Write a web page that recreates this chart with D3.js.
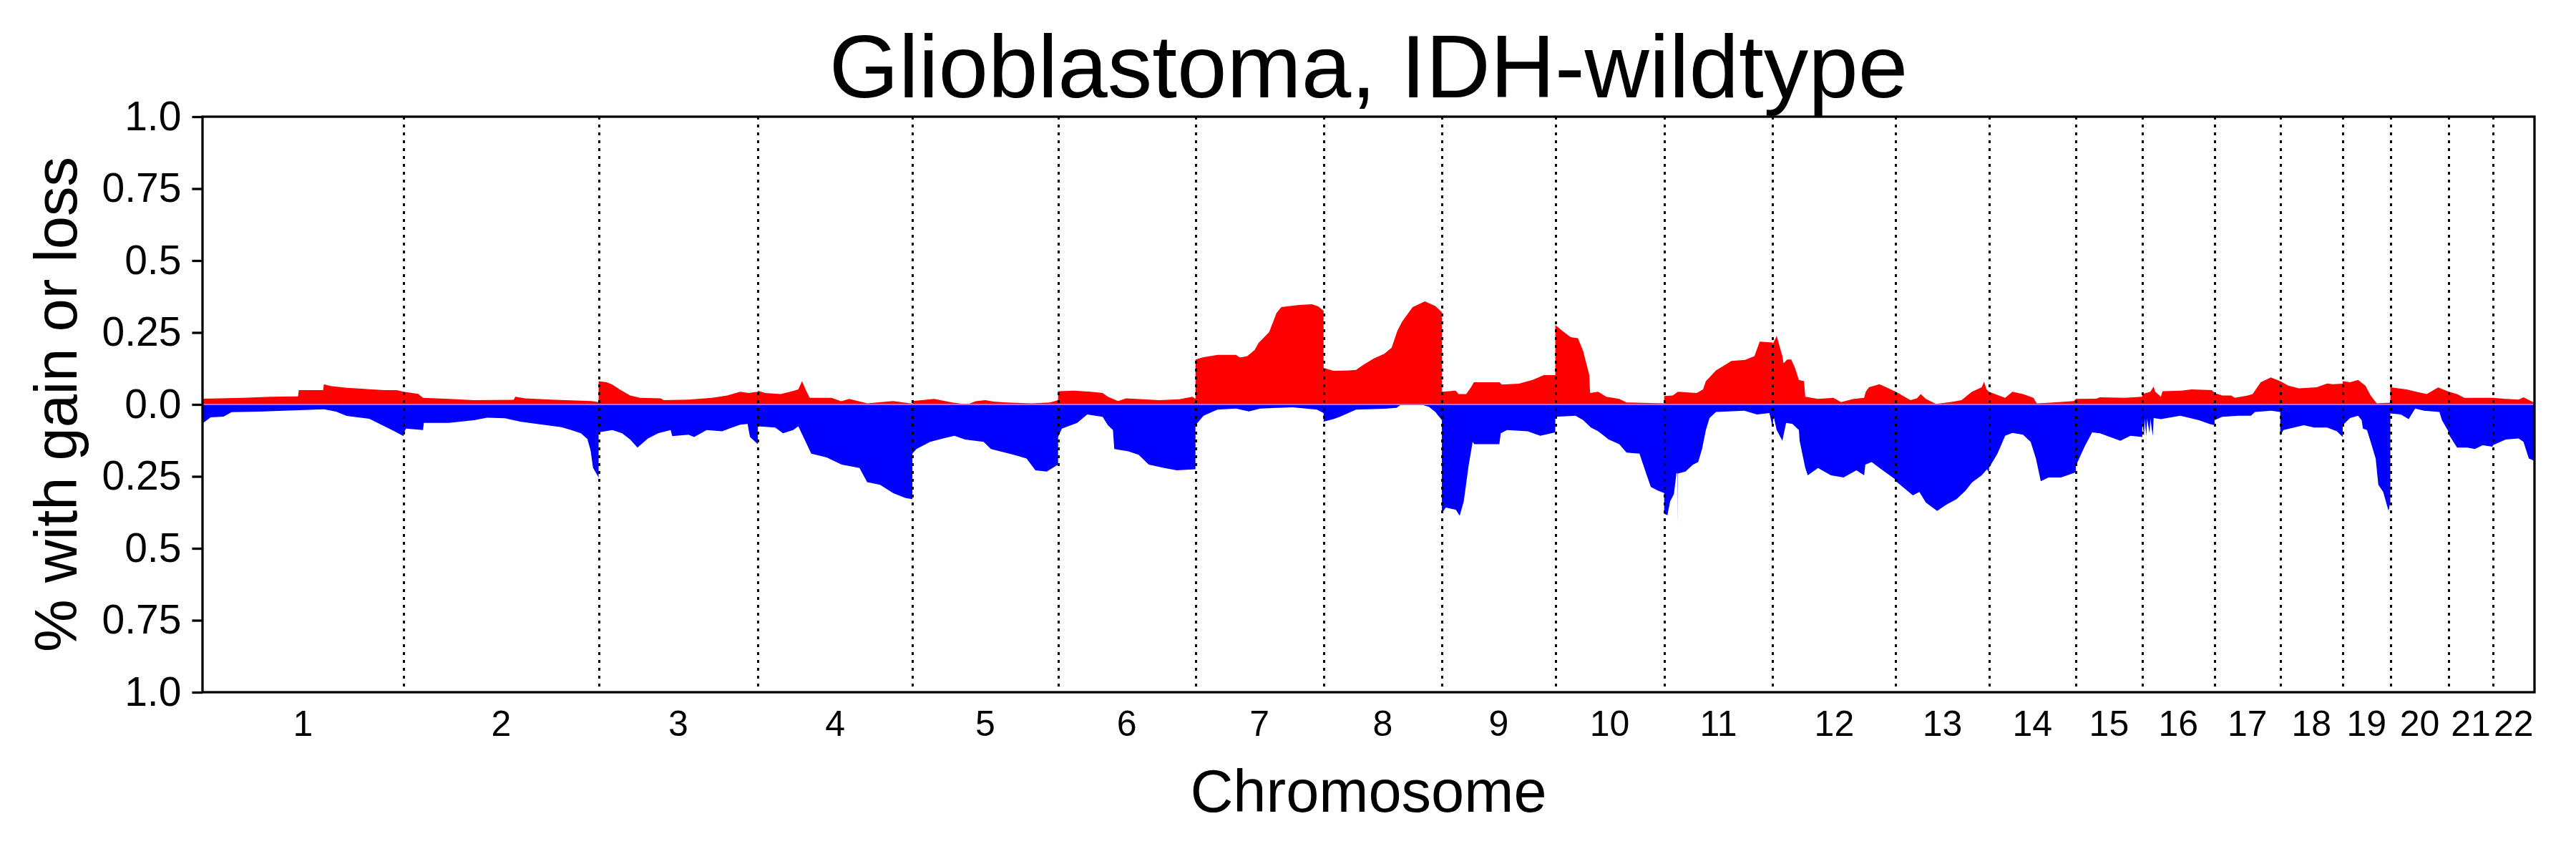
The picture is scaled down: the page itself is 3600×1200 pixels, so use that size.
<!DOCTYPE html>
<html>
<head>
<meta charset="utf-8">
<script src="https://d3js.org/d3.v7.min.js"></script>
<style>
  body { margin: 0; background: #fff; }
  text { font-family: "Liberation Sans", Arial, sans-serif; fill: #000; }
</style>
</head>
<body>
<svg id="chart" width="3600" height="1200"></svg>
<script>
// chromosome names and plotted widths (Mb)
const chromNames = ['1','2','3','4','5','6','7','8','9','10','11','12','13','14','15','16','17','18','19','20','21','22'];
const chromLengths = [248.4, 240.9, 196.7, 190.9, 180.0, 169.7, 158.3, 146.1, 140.1, 134.5, 134.0,
                      152.2, 115.0, 107.3, 82.1, 89.3, 81.1, 77.2, 58.8, 72.4, 54.1, 51.6];

// fraction with gain: [position in chromosome (Mb), fraction]
const gainByChrom = [
  [[0,0.02],[50,0.023],[85,0.027],[118,0.028],[119,0.05],[149,0.05],[150,0.07],[158,0.064],[178,0.058],[205,0.053],[225,0.05],[240,0.05],[248.4,0.044]],
  [[0,0.044],[18,0.037],[24,0.023],[56,0.019],[87,0.015],[136,0.016],[138,0.027],[150,0.021],[182,0.017],[232,0.012],[240.9,0.008]],
  [[0,0.081],[10,0.077],[17,0.069],[26,0.052],[39,0.031],[51,0.023],[77,0.021],[80,0.015],[111,0.017],[140,0.023],[159,0.031],[175,0.044],[185,0.04],[196.7,0.044]],
  [[0,0.048],[9,0.04],[28,0.036],[40,0.044],[50,0.052],[54.6,0.081],[59,0.052],[64,0.023],[91,0.023],[103,0.011],[113,0.019],[135,0.004],[167,0.012],[180,0.007],[190.9,0.003]],
  [[0,0.012],[27,0.019],[49,0.007],[68,0.0],[78,0.011],[90,0.015],[100,0.01],[116,0.007],[147,0.004],[170,0.007],[180,0.015]],
  [[0,0.046],[20,0.048],[40,0.044],[55,0.04],[61.5,0.027],[74,0.012],[84,0.021],[125,0.015],[150,0.018],[165.7,0.027],[169.7,0.02]],
  [[0,0.156],[10,0.164],[27.5,0.172],[50,0.172],[55,0.163],[64,0.168],[73,0.189],[78,0.214],[91,0.251],[100,0.317],[106,0.338],[128,0.346],[144,0.348],[152,0.34],[158.3,0.325]],
  [[0,0.127],[12,0.117],[31,0.118],[40,0.12],[50,0.139],[62,0.16],[75,0.176],[84,0.197],[91,0.255],[97,0.288],[110,0.338],[125,0.358],[138,0.342],[146.1,0.32]],
  [[0,0.044],[17,0.048],[20.6,0.036],[30,0.036],[36,0.06],[39.5,0.077],[71,0.077],[74,0.069],[95,0.072],[112,0.085],[126,0.102],[140.1,0.102]],
  [[0,0.276],[9,0.255],[19,0.234],[28,0.23],[34.5,0.185],[42,0.102],[43,0.04],[53,0.044],[63,0.027],[79,0.019],[88,0.007],[134.5,0.004]],
  [[0,0.029],[10.5,0.031],[17,0.044],[40,0.04],[48,0.052],[51.5,0.081],[64,0.118],[83,0.151],[100,0.155],[111.5,0.168],[118,0.218],[134,0.215]],
  [[0,0.209],[5,0.238],[8.7,0.201],[12,0.168],[13.5,0.143],[18,0.156],[23,0.156],[27.6,0.127],[32.4,0.085],[38.7,0.081],[40.3,0.027],[56,0.019],[75,0.023],[84.5,0.008],[100,0.019],[113,0.023],[115,0.044],[119,0.06],[132,0.07],[152.2,0.044]],
  [[0,0.044],[18,0.015],[26,0.021],[30.7,0.036],[37,0.019],[49.6,0.002],[68.5,0.009],[81,0.015],[94,0.044],[106,0.06],[109,0.079],[112,0.052],[115,0.044]],
  [[0,0.044],[20,0.023],[29,0.044],[42,0.036],[55,0.023],[59,0.004],[80,0.007],[105,0.012],[107.3,0.019]],
  [[0,0.019],[25,0.02],[30,0.025],[60,0.023],[82.1,0.027]],
  [[0,0.036],[10,0.044],[14,0.062],[16,0.044],[23,0.027],[25,0.046],[48,0.048],[61,0.052],[86,0.05],[89.3,0.04]],
  [[0,0.04],[9.5,0.031],[20.5,0.031],[25,0.023],[41,0.031],[47,0.036],[57,0.077],[69.5,0.094],[81.1,0.081]],
  [[0,0.081],[10,0.065],[23,0.056],[45,0.06],[58,0.073],[65,0.07],[77.2,0.072]],
  [[0,0.081],[9,0.077],[19,0.085],[28,0.065],[34.5,0.031],[42,0.004],[58.8,0.006]],
  [[0,0.06],[20,0.052],[32,0.044],[45,0.036],[59,0.059],[72.4,0.044]],
  [[0,0.044],[10,0.036],[19,0.023],[54.1,0.023]],
  [[0,0.023],[16,0.019],[32,0.017],[38,0.025],[50.8,0.007],[51.6,0.005]]
];

// fraction with loss: [position in chromosome (Mb), fraction]
const lossByChrom = [
  [[0,0.065],[3,0.06],[10,0.045],[26,0.042],[36,0.027],[70,0.025],[119,0.02],[150,0.017],[165,0.025],[178,0.04],[206,0.05],[222,0.072],[235,0.09],[248.4,0.11]],
  [[0,0.1],[3,0.084],[24,0.089],[25,0.064],[56,0.064],[87,0.055],[103,0.046],[125,0.048],[144,0.06],[165,0.068],[195,0.079],[207,0.089],[219,0.1],[227,0.12],[231,0.16],[234,0.22],[240.9,0.254]],
  [[0,0.097],[17,0.089],[29,0.1],[39,0.122],[48,0.15],[61,0.118],[73.5,0.1],[89,0.089],[91,0.11],[111,0.105],[118,0.113],[133.5,0.089],[152.5,0.093],[175,0.07],[184,0.068],[187,0.113],[196.7,0.138]],
  [[0,0.076],[21.5,0.08],[31,0.1],[43.6,0.089],[50,0.076],[66,0.171],[85,0.184],[103.5,0.209],[125.6,0.221],[135,0.27],[151,0.279],[167,0.308],[182.5,0.325],[190.9,0.329]],
  [[0,0.171],[5,0.155],[22,0.13],[38,0.118],[52,0.109],[65,0.122],[88,0.13],[97,0.155],[125,0.175],[141,0.188],[152,0.229],[166,0.233],[180,0.209]],
  [[0,0.113],[4.7,0.084],[23.6,0.064],[36,0.035],[55,0.043],[61.5,0.072],[67.8,0.089],[69.4,0.155],[86.7,0.163],[99.4,0.175],[112,0.209],[131,0.221],[146.7,0.229],[169.7,0.225]],
  [[0,0.072],[10,0.039],[27,0.018],[50,0.014],[66,0.024],[80,0.014],[120,0.01],[150,0.018],[158.3,0.03]],
  [[0,0.06],[12,0.051],[20,0.043],[40,0.018],[75,0.015],[90,0.012],[96,0.0],[120,0.0],[130,0.008],[138,0.026],[146.1,0.055]],
  [[0,0.378],[4.8,0.358],[17.4,0.366],[22,0.387],[27,0.337],[33,0.213],[38,0.13],[40,0.138],[71,0.138],[72.7,0.1],[80.5,0.089],[106,0.093],[121.5,0.109],[140.1,0.097]],
  [[0,0.043],[25,0.039],[34.5,0.055],[44,0.08],[53,0.093],[66,0.122],[79,0.138],[88,0.167],[104,0.171],[113,0.246],[118,0.287],[127,0.3],[134.5,0.308]],
  [[0,0.38],[4,0.385],[7.3,0.337],[12,0.312],[15.2,0.238],[16.6,0.24],[16.8,0.42],[17,0.24],[26.3,0.233],[35.7,0.209],[42,0.2],[46.8,0.155],[51.5,0.089],[56,0.047],[64,0.026],[99,0.022],[114.6,0.035],[130,0.03],[134,0.08]],
  [[0,0.08],[1,0.039],[5,0.089],[12,0.126],[16.6,0.064],[24.5,0.068],[32.4,0.089],[33.3,0.126],[40.3,0.221],[43.4,0.246],[56,0.221],[72,0.246],[87.6,0.254],[103.4,0.229],[113,0.246],[114.5,0.209],[122.3,0.2],[132,0.221],[152.2,0.262]],
  [[0,0.267],[21,0.316],[29,0.304],[37,0.341],[51,0.37],[62,0.349],[75,0.329],[86,0.3],[94,0.271],[106,0.246],[112.7,0.225],[115,0.238]],
  [[0,0.221],[10.5,0.171],[20,0.109],[29,0.099],[42,0.105],[51.5,0.13],[58,0.188],[64,0.267],[73.6,0.254],[89,0.254],[105,0.238],[107.3,0.235]],
  [[0,0.213],[10.8,0.147],[20.2,0.097],[29.7,0.1],[55,0.126],[67.5,0.109],[82.1,0.113]],
  [[0,0.06],[2,0.11],[3,0.05],[5,0.11],[6,0.05],[9,0.1],[10,0.05],[13,0.11],[14,0.047],[23,0.051],[47,0.039],[70,0.055],[83,0.068],[89.3,0.072]],
  [[0,0.055],[9.5,0.043],[30,0.039],[45,0.039],[50,0.026],[70,0.022],[81.1,0.026]],
  [[0,0.109],[4,0.089],[17,0.08],[29,0.072],[42,0.08],[58,0.08],[70,0.093],[77.2,0.113]],
  [[0,0.072],[9,0.047],[19,0.039],[23.4,0.055],[25,0.084],[30,0.089],[34.5,0.13],[40.7,0.188],[44,0.279],[50,0.304],[56.6,0.37],[58.8,0.34]],
  [[0,0.031],[13,0.035],[22.7,0.051],[30.7,0.014],[41.7,0.022],[60.6,0.026],[63.8,0.055],[72.4,0.097]],
  [[0,0.105],[10,0.15],[22.7,0.15],[32,0.155],[41.6,0.142],[54.1,0.147]],
  [[0,0.142],[16,0.122],[32,0.118],[38,0.13],[44.6,0.188],[51.6,0.196]]
];

const yTicks = [-1, -0.75, -0.5, -0.25, 0, 0.25, 0.5, 0.75, 1];

const width = 3600;
const height = 1200;
const margin = { top: 163, right: 58, bottom: 233, left: 283 };

const svg = d3.select('#chart');
svg.append('rect').attr('width', width).attr('height', height).attr('fill', '#fff');

// genome offsets
const offsets = [];
chromLengths.reduce((acc, len, i) => { offsets[i] = acc; return acc + len; }, 0);
const total = d3.sum(chromLengths);

const x = d3.scaleLinear()
    .domain([0, total])
    .range([margin.left, width - margin.right]);

const y = d3.scaleLinear()
    .domain([-1, 1])
    .range([height - margin.bottom, margin.top]);

const flatten = arr => arr.flatMap((pts, i) => pts.map(([p, v]) => ({ pos: offsets[i] + p, v })));
const gains = flatten(gainByChrom);
const losses = flatten(lossByChrom);

svg.append('path')
    .datum(gains)
    .attr('fill', '#ff0000')
    .attr('d', d3.area().x(d => x(d.pos)).y0(y(0)).y1(d => y(d.v)));

svg.append('path')
    .datum(losses)
    .attr('fill', '#0000ff')
    .attr('d', d3.area().x(d => x(d.pos)).y0(y(0)).y1(d => y(-d.v)));

// thin line at zero
svg.append('line')
    .attr('x1', x(0)).attr('x2', x(total))
    .attr('y1', y(0)).attr('y2', y(0))
    .attr('stroke', '#e8609a')
    .attr('stroke-width', 2);

// chromosome boundaries
svg.append('g')
    .selectAll('line')
    .data(offsets.slice(1))
    .join('line')
    .attr('x1', d => Math.round(x(d)) + 0.5).attr('x2', d => Math.round(x(d)) + 0.5)
    .attr('y1', margin.top).attr('y2', height - margin.bottom)
    .attr('stroke', '#000')
    .attr('stroke-width', 3.5)
    .attr('stroke-dasharray', '3.5,7.5')
    .attr('shape-rendering', 'crispEdges');

// y axis
const fmt = v => {
    const a = Math.abs(v);
    if (a === 0) return '0.0';
    if (a === 1) return '1.0';
    return String(a);
};
const yAxis = svg.append('g')
    .attr('transform', `translate(${margin.left},0)`)
    .call(d3.axisLeft(y).tickValues(yTicks).tickFormat(fmt).tickSize(14.6).tickPadding(15));
yAxis.select('.domain').remove();
yAxis.selectAll('line').attr('stroke', '#000').attr('stroke-width', 3.3);
yAxis.selectAll('text')
    .attr('font-size', '57px')
    .attr('font-family', '"Liberation Sans", Arial, sans-serif')
    .attr('fill', '#000');

// frame
svg.append('rect')
    .attr('x', margin.left).attr('y', margin.top)
    .attr('width', width - margin.left - margin.right)
    .attr('height', height - margin.top - margin.bottom)
    .attr('fill', 'none')
    .attr('stroke', '#000')
    .attr('stroke-width', 3.3);

// chromosome labels
svg.append('g')
    .selectAll('text')
    .data(chromNames)
    .join('text')
    .attr('x', (d, i) => x(offsets[i] + chromLengths[i] / 2))
    .attr('y', 1028)
    .attr('text-anchor', 'middle')
    .attr('font-size', '50px')
    .text(d => d);

// titles
svg.append('text')
    .attr('x', (margin.left + width - margin.right) / 2)
    .attr('y', 136)
    .attr('text-anchor', 'middle')
    .attr('font-size', '125px')
    .text('Glioblastoma, IDH-wildtype');

svg.append('text')
    .attr('x', (margin.left + width - margin.right) / 2)
    .attr('y', 1134)
    .attr('text-anchor', 'middle')
    .attr('font-size', '83px')
    .text('Chromosome');

svg.append('text')
    .attr('transform', `translate(107, ${(margin.top + height - margin.bottom) / 2}) rotate(-90)`)
    .attr('text-anchor', 'middle')
    .attr('font-size', '83px')
    .text('% with gain or loss');
</script>
</body>
</html>
